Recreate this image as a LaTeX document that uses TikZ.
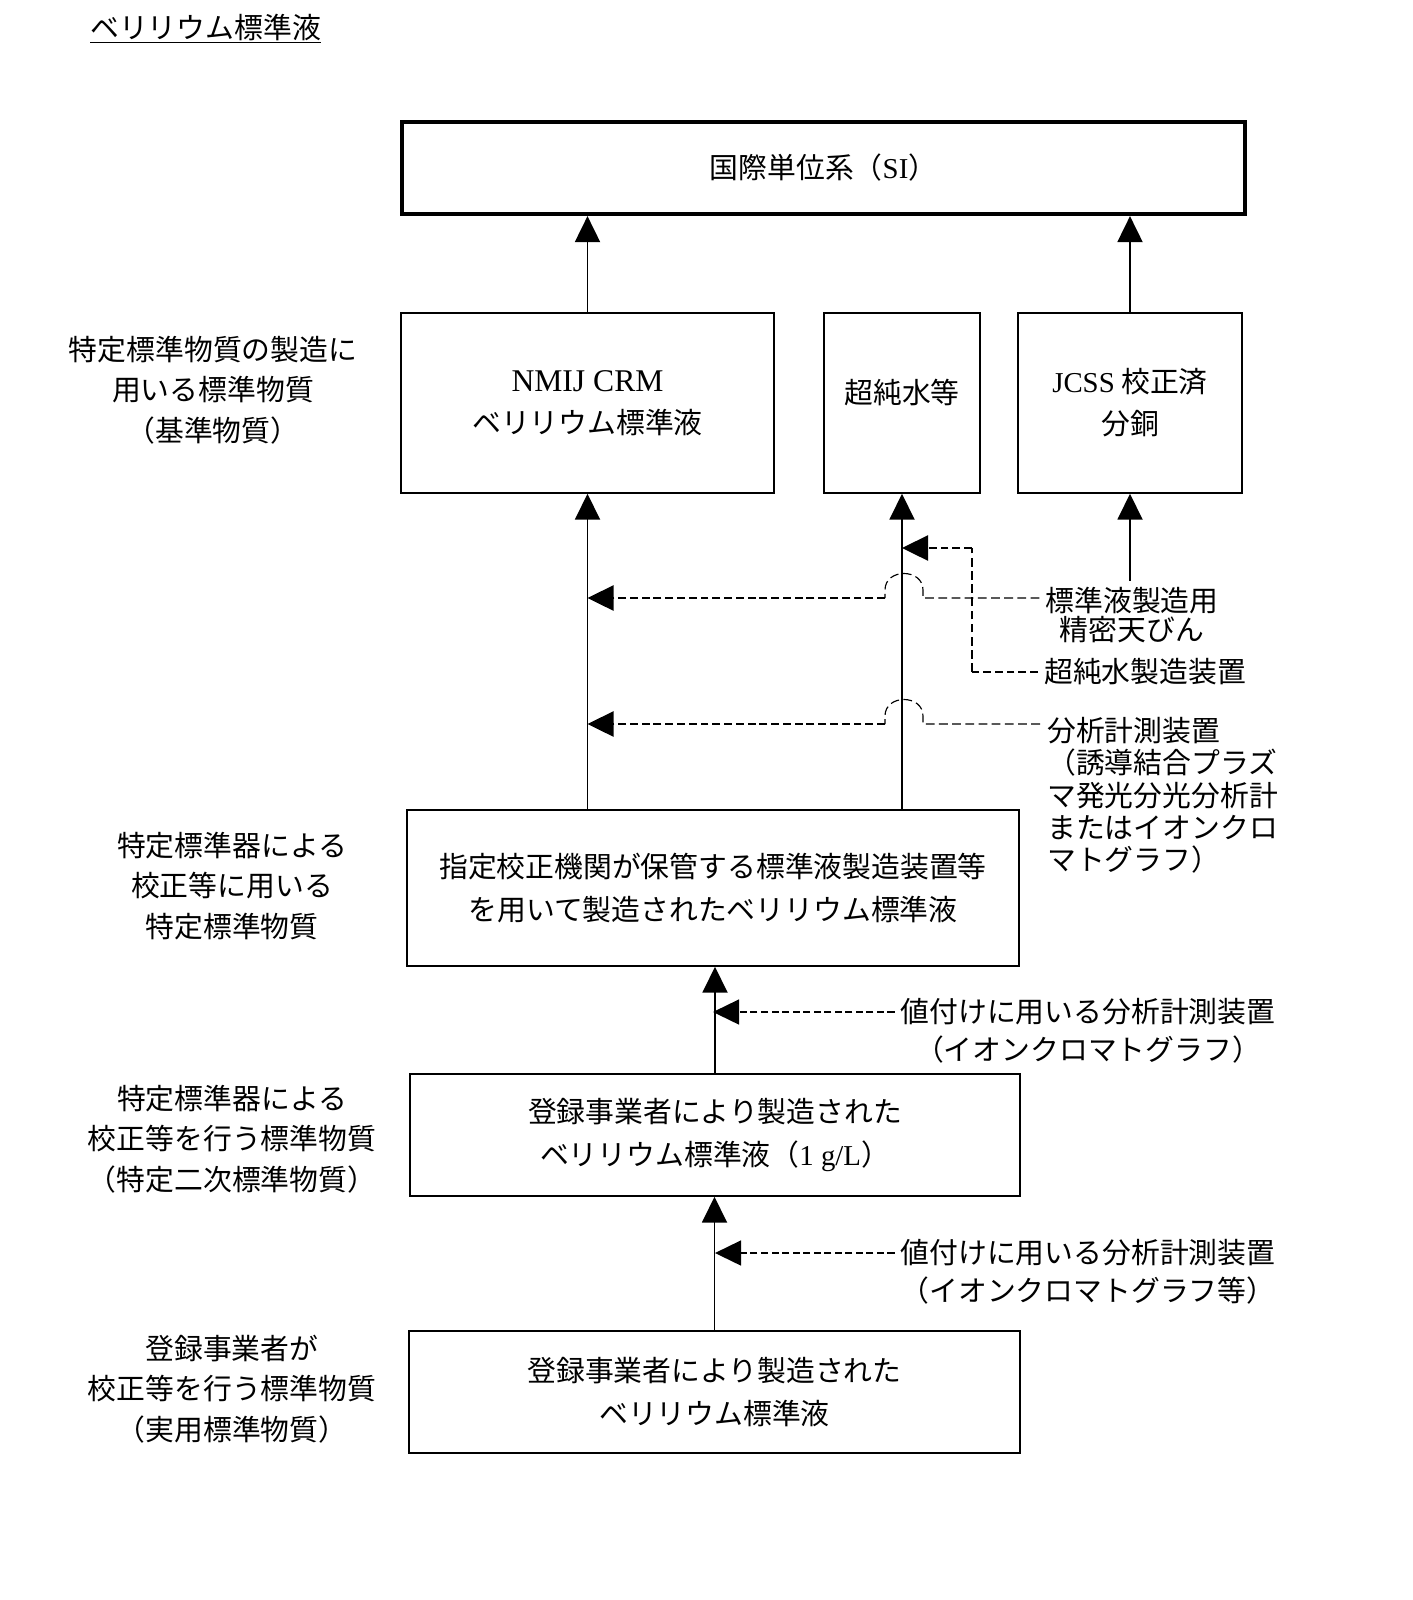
\documentclass[tikz,border=0pt]{standalone}
\usepackage{fontspec}
\setmainfont{Noto Sans CJK JP}
\newfontfamily\latinserif{Liberation Serif}
\usetikzlibrary{arrows.meta}

\begin{document}
\begin{tikzpicture}[x=0.02cm,y=-0.02cm,
        box/.style={draw,line width=0.85pt,inner sep=0pt,align=center,font=\fontsize{16.4}{24}\selectfont},
        side/.style={align=center,font=\fontsize{16.4}{23.2}\selectfont},
        note/.style={align=center,font=\fontsize{16.4}{21.6}\selectfont},
        tip/.style={-{Triangle[length=0.52cm,width=0.5cm]}},
        up/.style={tip,line width=1.1pt},
        dashthick/.style={line width=1.4pt,dash pattern=on 4.5pt off 2.2pt},
        dashthin/.style={line width=0.65pt,dash pattern=on 5pt off 2.5pt},
        dashmid/.style={line width=0.8pt,dash pattern=on 4pt off 2pt}]
        \useasboundingbox (0,0) rectangle (1413,1600);

        \node[anchor=base west,inner sep=0pt,font=\fontsize{16.4}{20}\selectfont] (title) at (90,38) {\underline{ベリリウム標準液}};

        \node[box,line width=2.4pt,minimum width=16.86cm,minimum height=1.84cm] (si) at (823.5,168) {国際単位系（{\latinserif SI}）};
        \node[box,minimum width=7.46cm,minimum height=3.6cm] (nmij) at (587.5,403) {{\latinserif\fontsize{18}{20}\selectfont NMIJ CRM}\\ベリリウム標準液};
        \node[box,minimum width=3.12cm,minimum height=3.6cm,text depth=0.47cm] (water) at (902,403) {超純水等};
        \node[box,minimum width=4.48cm,minimum height=3.6cm] (jcss) at (1130,403) {{\latinserif JCSS} 校正済\\分銅};
        \node[box,minimum width=12.24cm,minimum height=3.12cm] (shitei) at (713,888) {指定校正機関が保管する標準液製造装置等\\を用いて製造されたベリリウム標準液};
        \node[box,minimum width=12.2cm,minimum height=2.44cm] (reg1) at (715,1135) {登録事業者により製造された\\ベリリウム標準液（{\latinserif 1 g/L}）};
        \node[box,minimum width=12.22cm,minimum height=2.44cm] (reg2) at (714.5,1392) {登録事業者により製造された\\ベリリウム標準液};

        \node[side] (s1) at (213,390) {特定標準物質の製造に\\用いる標準物質\\（基準物質）};
        \node[side] (s2) at (232,886) {特定標準器による\\校正等に用いる\\特定標準物質};
        \node[side] (s3) at (232,1139) {特定標準器による\\校正等を行う標準物質\\（特定二次標準物質）};
        \node[side] (s4) at (232,1389) {登録事業者が\\校正等を行う標準物質\\（実用標準物質）};

        \node[align=center,font=\fontsize{16.4}{17}\selectfont] (bal) at (1132,615) {標準液製造用\\精密天びん};
        \node[anchor=west,font=\fontsize{16.4}{20}\selectfont] (uwd) at (1038,672) {超純水製造装置};
        \node[anchor=north west,inner sep=0pt,align=left,font=\fontsize{16.4}{18.4}\selectfont] (icp) at (1047,717) {分析計測装置\\（誘導結合プラズ\\マ発光分光分析計\\またはイオンクロ\\マトグラフ）};
        \node[note] (val1) at (1088,1031) {値付けに用いる分析計測装置\\（イオンクロマトグラフ）};
        \node[note] (val2) at (1088,1272) {値付けに用いる分析計測装置\\（イオンクロマトグラフ等）};

        \draw[up] (nmij.north) -- (nmij.north |- si.south);
        \draw[up] (jcss.north) -- (jcss.north |- si.south);
        \draw[up] (shitei.north -| nmij.south) -- (nmij.south);
        \draw[up] (shitei.north -| water.south) -- (water.south);
        \draw[up] (bal.north -| jcss.south) -- (jcss.south);
        \draw[up] (reg1.north) -- (reg1.north |- shitei.south);
        \draw[up] (reg2.north) -- (reg2.north |- reg1.south);

        \coordinate (hop1) at (885,598);
        \draw[dashthin] ([yshift=0.34cm]bal.west) -- (923,598) -- (923,590) .. controls (923,568) and (885,568) .. (885,590) -- (hop1);
        \draw[dashthick,tip] (hop1) -- (hop1 -| nmij.south);

        \coordinate (bend1) at (972,672);
        \coordinate (bend2) at (972,548);
        \draw[dashthick] (uwd.west) -- (bend1);
        \draw[dashthin] (bend1) -- (bend2);
        \draw[dashthick,tip] (bend2) -- (bend2 -| water.south);

        \coordinate (hop2) at (885,724);
        \draw[dashthin] ([xshift=-0.14cm,yshift=-0.14cm]icp.north west) -- (923,724) -- (923,716) .. controls (923,694) and (885,694) .. (885,716) -- (hop2);
        \draw[dashthick,tip] (hop2) -- (hop2 -| nmij.south);

        \coordinate (v1) at ([yshift=0.38cm]val1.west);
        \coordinate (v2) at ([yshift=0.38cm]val2.west);
        \draw[dashmid,tip] (v1) -- (v1 -| shitei.south);
        \draw[dashmid,tip] (v2) -- (v2 -| reg1.north);
\end{tikzpicture}
\end{document}
